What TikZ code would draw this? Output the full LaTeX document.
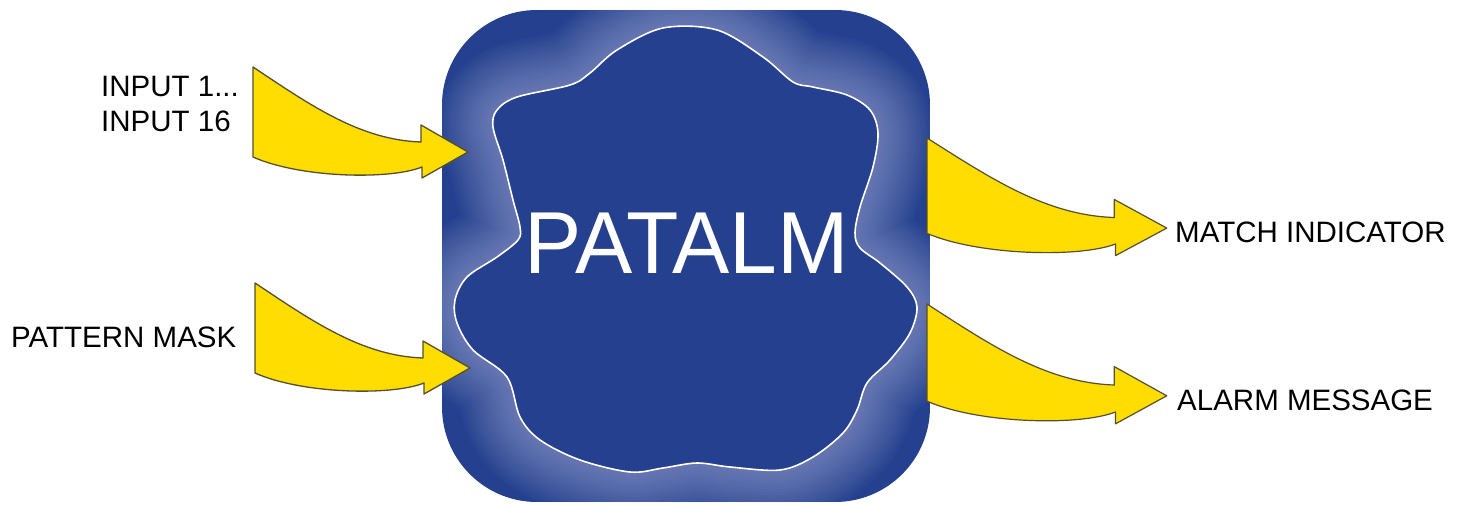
\documentclass[tikz,border=0pt]{standalone}
\usepackage{fontspec}
\setmainfont{Liberation Sans}
\definecolor{boxblue}{RGB}{36,64,143}
\definecolor{glow}{RGB}{200,200,235}
\definecolor{arrowfill}{RGB}{255,221,0}
\definecolor{arrowline}{RGB}{85,80,45}
\tikzset{
  blockarrow/.style={fill=arrowfill, draw=arrowline, line width=1.3pt, line join=round},
  lbl/.style={anchor=base west, inner sep=0pt, font=\fontsize{29.5}{31}\selectfont},
}
\newcommand{\blobpath}{plot[smooth cycle, tension=0.55] coordinates {
 (663,28) (717,30) (763,57) (793,82) (813,87) (847,95) (870,110) (878,133)
 (873,167) (860,207) (855,233) (860,248) (880,263) (907,287) (917,307) (910,333)
 (890,360) (867,383) (857,410) (843,433) (813,457) (780,470) (730,467) (697,463)
 (663,468) (630,472) (580,460) (540,440) (520,417) (507,377) (473,350) (457,323)
 (455,300) (467,277) (497,257) (518,240) (520,227) (513,200) (503,160) (493,127)
 (497,110) (517,97) (570,85) (590,73) (617,50)}}
\newcommand{\arrowshape}{(0,0) .. controls (57,38) and (107,73) .. (168,75) -- (168,58) -- (215,85) -- (169,111) -- (169,100) .. controls (137,113) and (47,111) .. (0,90) -- cycle}
\begin{document}
\begin{tikzpicture}[x=1pt,y=-1pt]
\useasboundingbox (0,0) rectangle (1464,505);
% main box
\begin{scope}
\path[clip] (442,10) [rounded corners=95pt] rectangle (930,502);
\fill[boxblue] (442,10) rectangle (930,502);
\foreach \w in {110,104,...,8} {
  \draw[glow, line width=\w pt, opacity=0.03] \blobpath;
}
\fill[boxblue] \blobpath;
\draw[white, line width=1.6pt] \blobpath;
\end{scope}
\node[font=\fontsize{88}{90}\selectfont, text=white, anchor=base, inner sep=0pt, xscale=0.975] (patalm) at (687,273) {PATALM};
% arrows
\begin{scope}[shift={(253,67)}]
\draw[blockarrow] \arrowshape;
\end{scope}
\begin{scope}[shift={(255,283)}]
\draw[blockarrow] \arrowshape;
\end{scope}
\begin{scope}[shift={(927,138)}, xscale=1.115, yscale=1.06]
\draw[blockarrow, line width=1.2pt] \arrowshape;
\end{scope}
\begin{scope}[shift={(927,304)}, xscale=1.115, yscale=1.08]
\draw[blockarrow, line width=1.2pt] \arrowshape;
\end{scope}
% labels
\node[lbl] (in1) at (101,97) {INPUT 1...};
\node[lbl] (in16) at (101,132) {INPUT 16};
\node[lbl] (mask) at (11,347) {PATTERN MASK};
\node[lbl] (match) at (1175,242) {MATCH INDICATOR};
\node[lbl] (alarm) at (1177,410) {ALARM MESSAGE};
\end{tikzpicture}
\end{document}
